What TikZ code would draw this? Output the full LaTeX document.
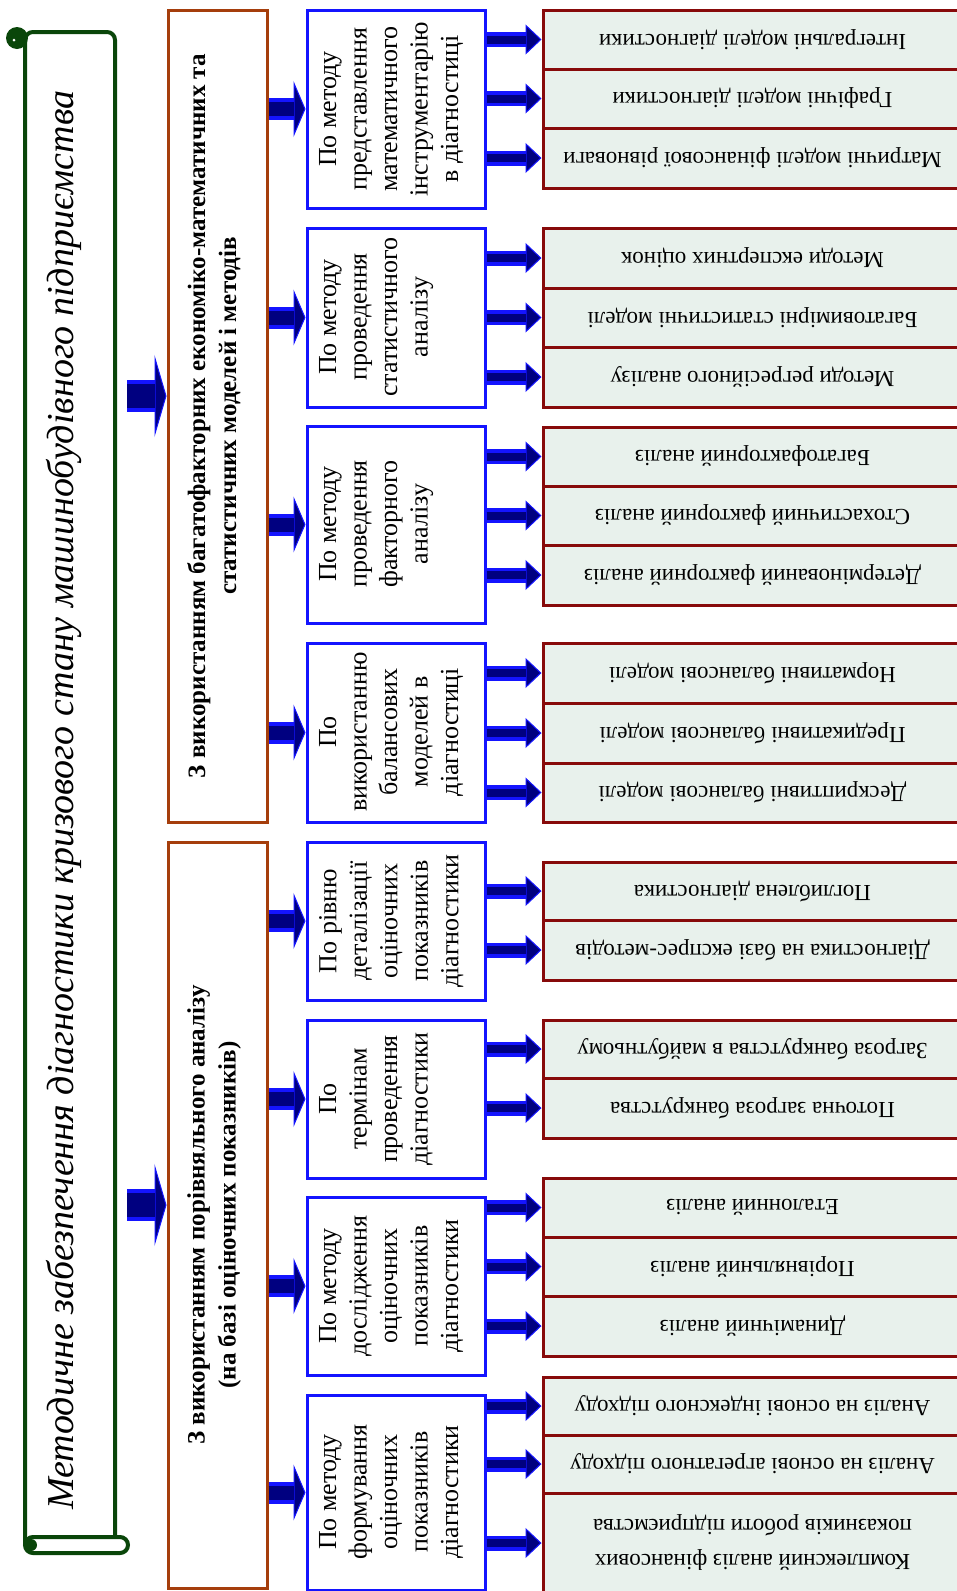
\documentclass[tikz,border=0pt]{standalone}
\usepackage{fontspec}
\setmainfont{Liberation Serif}
\usetikzlibrary{arrows.meta}
\definecolor{brownc}{RGB}{165,62,12}
\definecolor{darkredc}{RGB}{135,10,10}
\definecolor{fillc}{RGB}{232,241,236}
\definecolor{greenc}{RGB}{10,70,10}
\definecolor{navyc}{RGB}{0,0,128}
\definecolor{bluec}{RGB}{20,20,255}
\newcommand{\mkbox}[6]{\node[#2, minimum width={(#5-#3)*1pt}, minimum height={(#6-#4)*1pt}] (#1) at ({(#3+#5)/2},{(#4+#6)/2}) {};}
\newcommand{\leafitem}[5]{%
  \node[leafbox, minimum width=419pt, minimum height={(#4-#3)*1pt}] (#2) at (752.5,{(#3+#4)/2}) {};
  \node[leaftext] (#2t) at (#2) {#5};
  \draw[sarrow] (#1.east |- #2) -- (#2.west);}
\begin{document}
\begin{tikzpicture}[x=1pt,y=-1pt,
  bigbox/.style={draw=brownc, line width=3pt, fill=white, inner sep=0pt},
  midbox/.style={draw=bluec, line width=3pt, fill=white, inner sep=0pt},
  leafbox/.style={draw=darkredc, line width=3pt, fill=fillc, inner sep=0pt},
  bigtext/.style={rotate=90, anchor=north, align=center, inner sep=0pt, font=\fontsize{25}{31}\selectfont\bfseries},
  midtext/.style={rotate=90, anchor=north, align=center, inner sep=0pt, font=\fontsize{26}{30.5}\selectfont},
  leaftext/.style={rotate=180, align=center, inner sep=0pt, font=\fontsize{23}{35}\selectfont},
  scrollline/.style={draw=greenc, line width=4pt},
  sarrow/.style={draw=bluec, line width=15pt, -{Triangle[width=30pt,length=16pt,line width=1pt,color=bluec,fill=navyc]},
     postaction={draw=navyc, line width=8pt, arrows=-, shorten >=16pt}},
  marrow/.style={draw=bluec, line width=22pt, -{Triangle[width=56pt,length=12pt,line width=1pt,color=bluec,fill=navyc]},
     postaction={draw=navyc, line width=14pt, arrows=-, shorten >=12pt}},
  barrow/.style={draw=bluec, line width=32pt, -{Triangle[width=82pt,length=12pt,line width=1pt,color=bluec,fill=navyc]},
     postaction={draw=navyc, line width=24pt, arrows=-, shorten >=12pt}}
]
\useasboundingbox[fill=white] (0,0) rectangle (957,1591);

% title scroll
\draw[scrollline, fill=white, rounded corners=8pt] (25,1545) -- (25,32) -- (115,32) -- (115,1537);
\draw[scrollline, fill=white, rounded corners=8pt] (25,1537) rectangle (128,1553);
\fill[greenc] (17,38) circle[radius=11pt];
\fill[white] (14,40) circle[radius=1.5pt];
\fill[greenc] (31,1545) circle[radius=6pt];
\node[rotate=90, inner sep=0pt, font=\fontsize{38}{38}\selectfont\itshape] (title) at (64,800)
  {Методичне забезпечення діагностики кризового стану машинобудівного підприємства};
\coordinate (t1) at (127,396);
\coordinate (t2) at (127,1205);

% big boxes
\mkbox{A}{bigbox}{168}{10}{267}{822}
\mkbox{B}{bigbox}{168}{842}{267}{1588}
\node[bigtext] (At) at (187,416) {З використанням багатофакторних економіко-математичних та\\статистичних моделей і методів};
\node[bigtext] (Bt) at (187,1215) {З використанням порівняльного аналізу\\(на базі оціночних показників)};
\draw[barrow] (t1) -- (t1 -| A.west);
\draw[barrow] (t2) -- (t2 -| B.west);

% middle boxes
\mkbox{M1}{midbox}{307}{10}{485}{208}
\mkbox{M2}{midbox}{307}{228}{485}{407}
\mkbox{M3}{midbox}{307}{426}{485}{623}
\mkbox{M4}{midbox}{307}{643}{485}{822}
\mkbox{M5}{midbox}{307}{842}{485}{1000}
\mkbox{M6}{midbox}{307}{1020}{485}{1178}
\mkbox{M7}{midbox}{307}{1197}{485}{1375}
\mkbox{M8}{midbox}{307}{1395}{485}{1590}
\node[midtext] (M1t) at (319,109) {По методу\\представлення\\математичного\\інструментарію\\в діагностиці};
\node[midtext] (M2t) at (319,317) {По методу\\проведення\\статистичного\\аналізу};
\node[midtext] (M3t) at (319,524) {По методу\\проведення\\факторного\\аналізу};
\node[midtext] (M4t) at (319,732) {По\\використанню\\балансових\\моделей в\\діагностиці};
\node[midtext] (M5t) at (319,921) {По рівню\\деталізації\\оціночних\\показників\\діагностики};
\node[midtext] (M6t) at (319,1099) {По\\термінам\\проведення\\діагностики};
\node[midtext] (M7t) at (319,1286) {По методу\\дослідження\\оціночних\\показників\\діагностики};
\node[midtext] (M8t) at (319,1492) {По методу\\формування\\оціночних\\показників\\діагностики};
\foreach \m in {M1,M2,M3,M4} {\draw[marrow] (A.east |- \m) -- (\m.west);}
\foreach \m in {M5,M6,M7,M8} {\draw[marrow] (B.east |- \m) -- (\m.west);}

% leaf boxes
\leafitem{M1}{L11}{10}{69}{Інтегральні моделі діагностики}
\leafitem{M1}{L12}{69}{128}{Графічні моделі діагностики}
\leafitem{M1}{L13}{128}{188}{Матричні моделі фінансової рівноваги}
\leafitem{M2}{L21}{228}{288}{Методи експертних оцінок}
\leafitem{M2}{L22}{288}{347}{Багатовимірні статистичні моделі}
\leafitem{M2}{L23}{347}{407}{Методи регресійного аналізу}
\leafitem{M3}{L31}{427}{486}{Багатофакторний аналіз}
\leafitem{M3}{L32}{486}{545}{Стохастичний факторний аналіз}
\leafitem{M3}{L33}{545}{605}{Детермінований факторний аналіз}
\leafitem{M4}{L41}{643}{703}{Нормативні балансові моделі}
\leafitem{M4}{L42}{703}{763}{Предикативні балансові моделі}
\leafitem{M4}{L43}{763}{822}{Дескриптивні балансові моделі}
\leafitem{M5}{L51}{862}{920}{Поглиблена діагностика}
\leafitem{M5}{L52}{920}{980}{Діагностика на базі експрес-методів}
\leafitem{M6}{L61}{1020}{1078}{Загроза банкрутства в майбутньому}
\leafitem{M6}{L62}{1078}{1138}{Поточна загроза банкрутства}
\leafitem{M7}{L71}{1178}{1237}{Еталонний аналіз}
\leafitem{M7}{L72}{1237}{1296}{Порівняльний аналіз}
\leafitem{M7}{L73}{1296}{1356}{Динамічний аналіз}
\leafitem{M8}{L81}{1377}{1435}{Аналіз на основі індексного підходу}
\leafitem{M8}{L82}{1435}{1493}{Аналіз на основі агрегатного підходу}
\leafitem{M8}{L83}{1493}{1593}{Комплексний аналіз фінансових\\показників роботи підприємства}
\end{tikzpicture}
\end{document}
